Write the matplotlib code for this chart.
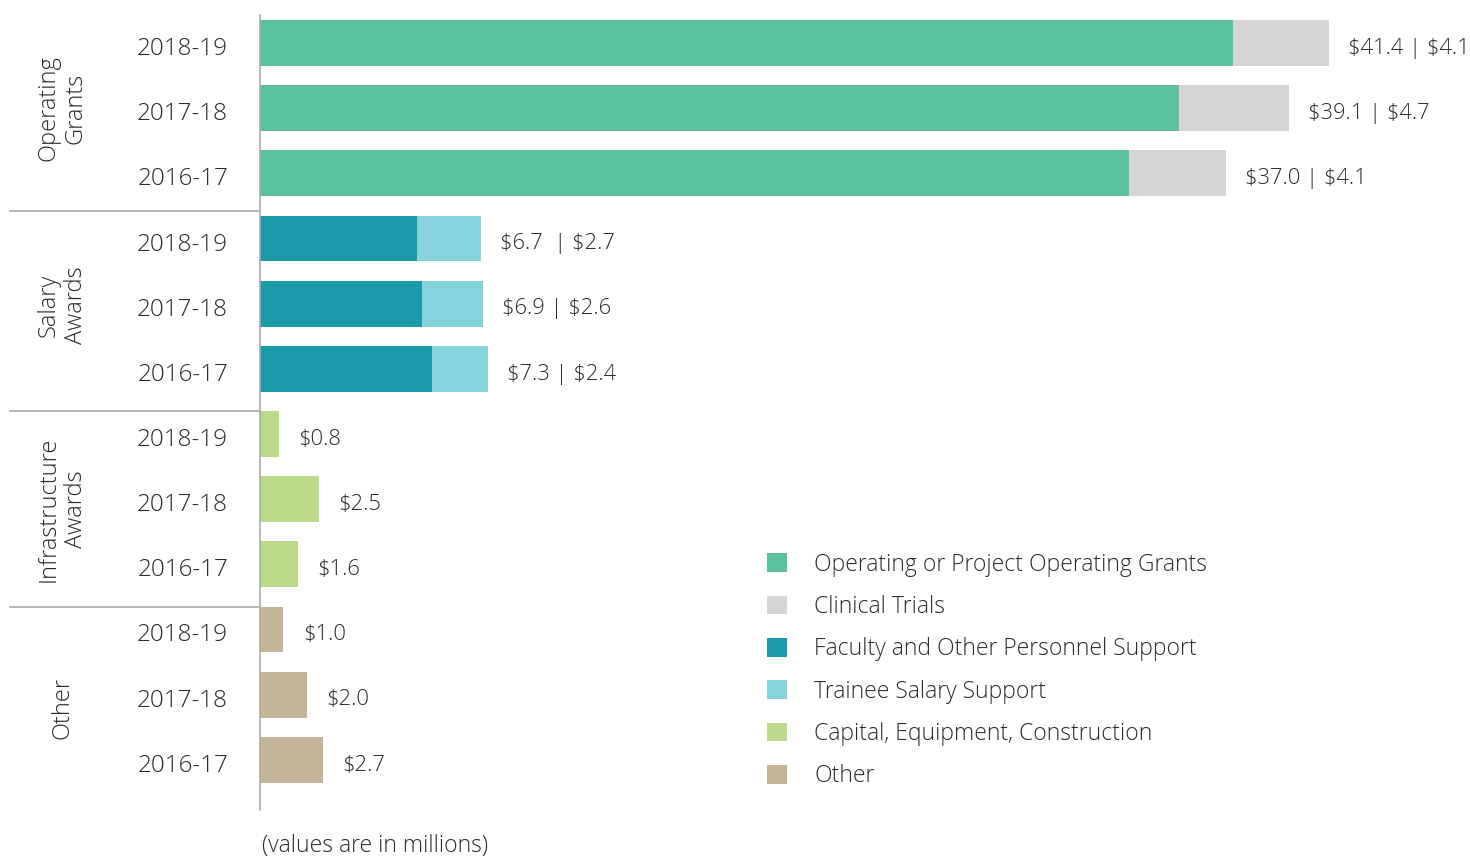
import matplotlib
matplotlib.use("Agg")
import matplotlib.pyplot as plt
from matplotlib.patches import Patch
import matplotlib.transforms as mtransforms

plt.rcParams['font.family'] = ['Open Sans', 'DejaVu Sans']

years = ["2018-19", "2017-18", "2016-17"]
groups = ["Operating\nGrants", "Salary\nAwards", "Infrastructure\nAwards", "Other"]

op_grants = [41.4, 39.1, 37.0]
clinical = [4.1, 4.7, 4.1]
faculty = [6.7, 6.9, 7.3]
trainee = [2.7, 2.6, 2.4]
infra = [0.8, 2.5, 1.6]
other = [1.0, 2.0, 2.7]

op_labels = ["$41.4 | $4.1", "$39.1 | $4.7", "$37.0 | $4.1"]
sal_labels = ["$6.7  | $2.7", "$6.9 | $2.6", "$7.3 | $2.4"]
infra_labels = ["$0.8", "$2.5", "$1.6"]
other_labels = ["$1.0", "$2.0", "$2.7"]

legend_labels = ["Operating or Project Operating Grants", "Clinical Trials",
                 "Faculty and Other Personnel Support", "Trainee Salary Support",
                 "Capital, Equipment, Construction", "Other"]
colors = ["#5BC2A0", "#D6D4D5", "#1B9AAA", "#86D3DB", "#BAD98A", "#C4B596"]

TXT = "#2b2b2b"
FS = 16.5
W = 'light'

fig = plt.figure(figsize=(14.7, 8.56), dpi=100)
ax = fig.add_axes([260/1470, 46/856, 1210/1470, 795/856])
ax.set_xlim(0, 51.5)
ax.set_ylim(11.77, -0.43)

h = 0.705
pos_op = [0, 1, 2]
pos_sal = [3, 4, 5]
pos_inf = [6, 7, 8]
pos_oth = [9, 10, 11]

ax.barh(pos_op, op_grants, height=h, color=colors[0])
ax.barh(pos_op, clinical, left=op_grants, height=h, color=colors[1])
ax.barh(pos_sal, faculty, height=h, color=colors[2])
ax.barh(pos_sal, trainee, left=faculty, height=h, color=colors[3])
ax.barh(pos_inf, infra, height=h, color=colors[4])
ax.barh(pos_oth, other, height=h, color=colors[5])

pad = 0.82
def label(pos, ends, texts):
    for p, e, t in zip(pos, ends, texts):
        ax.text(e + pad, p + 0.08, t, va='center', ha='left', fontsize=15.8, color=TXT,
                fontweight=W, parse_math=False)

label(pos_op, [a + b for a, b in zip(op_grants, clinical)], op_labels)
label(pos_sal, [a + b for a, b in zip(faculty, trainee)], sal_labels)
label(pos_inf, infra, infra_labels)
label(pos_oth, other, other_labels)

# y tick labels
ax.set_yticks(list(range(12)))
ax.set_yticklabels(years * 4, fontsize=17.5, color=TXT, fontweight=W)
ax.tick_params(axis='y', length=0, pad=23)
off = mtransforms.ScaledTranslation(0, -3/100, fig.dpi_scale_trans)
for lbl in ax.get_yticklabels():
    lbl.set_transform(lbl.get_transform() + off)
ax.set_xticks([])
for s in ['top', 'right', 'bottom']:
    ax.spines[s].set_visible(False)
ax.spines['left'].set_color('#AAAAAA')
ax.spines['left'].set_linewidth(1.2)

# group separators
ytr = ax.get_yaxis_transform()
for yb in [2.58, 5.64, 8.65]:
    ax.plot([-250/1210, 0], [yb, yb], color='#AAAAAA', lw=1.2, transform=ytr, clip_on=False)

# group labels
for gy, g in zip([1.0, 4.03, 7.15, 10.2], groups):
    ax.text(-198/1210, gy, g, rotation=90, ha='center', va='center', fontsize=17,
            color=TXT, transform=ytr, multialignment='center', fontweight=W,
            linespacing=1.2)

handles = [Patch(facecolor=c, edgecolor='none') for c in colors]
leg = fig.legend(handles, legend_labels, loc='upper left', bbox_to_anchor=(746/1470, 1 - 532/856),
           frameon=False, handlelength=0.87, handleheight=0.87,
           handletextpad=1.2, labelspacing=0.8, labelcolor=TXT,
           prop={'size': FS, 'weight': W})

fig.text(262/1470, 10/856, "(values are in millions)", fontsize=FS, color=TXT,
         va='center', ha='left', fontweight=W)

fig.savefig("out.png", dpi=100)
